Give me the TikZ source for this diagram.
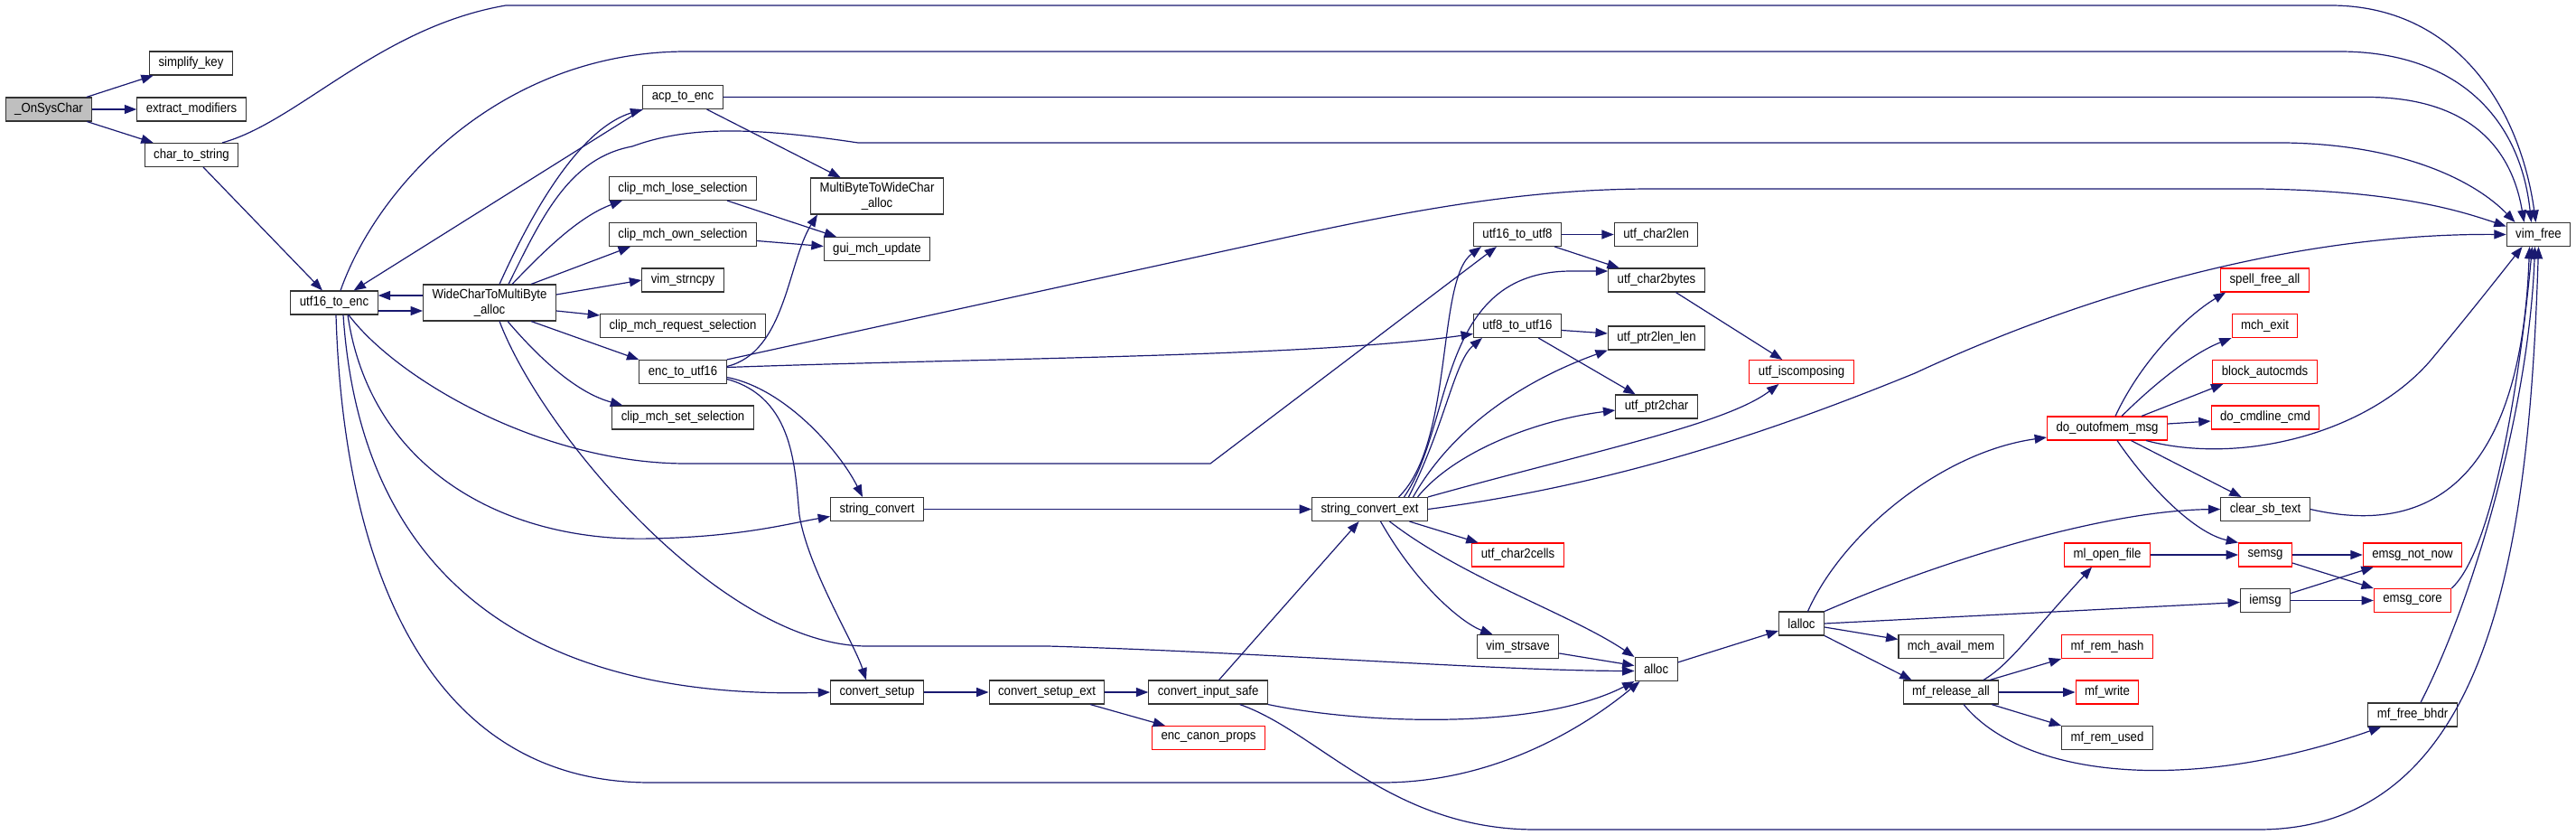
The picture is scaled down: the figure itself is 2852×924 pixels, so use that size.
\documentclass[tikz,border=0pt]{standalone}
\usepackage{fontspec}
\setmainfont{Liberation Sans}[FakeStretch=0.9]
\usetikzlibrary{arrows.meta}
\definecolor{edgeblue}{HTML}{191970}
\definecolor{rootgrey}{HTML}{BFBFBF}

\begin{document}
\begin{tikzpicture}[
  x=0.75pt, y=-0.75pt,
  every node/.style={inner sep=1pt},
  fn/.style={draw=black!80, fill=white, line width=0.8pt, inner xsep=7.5pt,
    inner ysep=2pt, minimum height=19.5pt, font=\fontsize{11}{13}\selectfont},
  fnred/.style={fn, draw=red},
  fnroot/.style={fn, fill=rootgrey},
  fntwo/.style={fn, align=center, minimum height=30pt},
  % calls: dark blue line with a filled head, as in the doxygen graph
  call/.style={draw=edgeblue, line width=0.9pt, -{Triangle[length=10pt,width=7.5pt]}}]

  \useasboundingbox (0,0) rectangle (2852,924);

  % vertices
  \node[fnroot] (onsys)    at (54,121)      {\_OnSysChar};
  \node[fn]     (simpkey)  at (211.5,70)    {simplify\_key};
  \node[fn]     (extmod)   at (212,121)     {extract\_modifiers};
  \node[fn]     (chrstr)   at (212,171.5)   {char\_to\_string};
  \node[fn]     (u16enc)   at (370,335)     {utf16\_to\_enc};
  \node[fntwo]  (wcmb)     at (542,335)     {WideCharToMultiByte\\\_alloc};
  \node[fn]     (acpenc)   at (756,107.5)   {acp\_to\_enc};
  \node[fn]     (losesel)  at (756,208.5)   {clip\_mch\_lose\_selection};
  \node[fn]     (ownsel)   at (756,259.5)   {clip\_mch\_own\_selection};
  \node[fn]     (strncpy)  at (756,310)     {vim\_strncpy};
  \node[fn]     (reqsel)   at (756,360.5)   {clip\_mch\_request\_selection};
  \node[fn]     (encu16)   at (756,411.5)   {enc\_to\_utf16};
  \node[fn]     (setsel)   at (756,462)     {clip\_mch\_set\_selection};
  \node[fntwo]  (mbwc)     at (971,217)     {MultiByteToWideChar\\\_alloc};
  \node[fn]     (guiupd)   at (971,275.5)   {gui\_mch\_update};
  \node[fn]     (strconv)  at (971,563.5)   {string\_convert};
  \node[fn]     (cvsetup)  at (971,766)     {convert\_setup};
  \node[fn]     (cvsetupx) at (1159,766)    {convert\_setup\_ext};
  \node[fn]     (cvinput)  at (1337.6,766)  {convert\_input\_safe};
  \node[fnred]  (canon)    at (1338,816.5)  {enc\_canon\_props};
  \node[fn]     (strconvx) at (1516.5,563.5) {string\_convert\_ext};
  \node[fn]     (u16u8)    at (1680,259.5)  {utf16\_to\_utf8};
  \node[fn]     (u8u16)    at (1680,360.5)  {utf8\_to\_utf16};
  \node[fnred]  (c2cells)  at (1680.5,614)  {utf\_char2cells};
  \node[fn]     (strsave)  at (1680.5,715.5) {vim\_strsave};
  \node[fn]     (c2len)    at (1833.6,259.5) {utf\_char2len};
  \node[fn]     (c2bytes)  at (1834,310)    {utf\_char2bytes};
  \node[fn]     (p2lenlen) at (1834,374)    {utf\_ptr2len\_len};
  \node[fn]     (p2char)   at (1834,450)    {utf\_ptr2char};
  \node[fn]     (alloc)    at (1833.6,740.5) {alloc};
  \node[fnred]  (iscomp)   at (1994.6,411.5) {utf\_iscomposing};
  \node[fn]     (lalloc)   at (1994.5,690)  {lalloc};
  \node[fn]     (availmem) at (2160,715.5)  {mch\_avail\_mem};
  \node[fn]     (relall)   at (2160,766)    {mf\_release\_all};
  \node[fnred]  (outofmem) at (2333,474)    {do\_outofmem\_msg};
  \node[fnred]  (mlopen)   at (2333,614)    {ml\_open\_file};
  \node[fnred]  (remhash)  at (2333,715.5)  {mf\_rem\_hash};
  \node[fnred]  (mfwrite)  at (2333,766)    {mf\_write};
  \node[fn]     (remused)  at (2333,816.5)  {mf\_rem\_used};
  \node[fnred]  (spellfree) at (2507.5,310) {spell\_free\_all};
  \node[fnred]  (mchexit)  at (2507.5,360.5) {mch\_exit};
  \node[fnred]  (blockac)  at (2507.5,411.5) {block\_autocmds};
  \node[fnred]  (cmdline)  at (2508,462)    {do\_cmdline\_cmd};
  \node[fn]     (clearsb)  at (2508,563.5)  {clear\_sb\_text};
  \node[fnred]  (semsg)    at (2508,614)    {semsg};
  \node[fn]     (iemsg)    at (2508,664.5)  {iemsg};
  \node[fnred]  (notnow)   at (2671,614)    {emsg\_not\_now};
  \node[fnred]  (emsgcore) at (2671,664.5)  {emsg\_core};
  \node[fn]     (freebhdr) at (2671,791)    {mf\_free\_bhdr};
  \node[fn]     (vimfree)  at (2810.5,259.5) {vim\_free};

  % calls out of _OnSysChar and char_to_string
  \draw[call] (onsys) -- (simpkey);
  \draw[call] (onsys) -- (extmod);
  \draw[call] (onsys) -- (chrstr);
  \draw[call] (chrstr) -- (u16enc);
  \draw[call] ([shift={(34,0)}]chrstr.north) .. controls (330,135) and (420,30) .. (560,6)
    -- (2580,6) .. controls (2720,6) and (2790,120) .. ([shift={(-3,0)}]vimfree.north);

  % utf16_to_enc
  \draw[call] ([shift={(7,0)}]u16enc.north) .. controls (420,200) and (560,57) .. (760,57)
    -- (2590,57) .. controls (2720,57) and (2790,130) .. ([shift={(-8,0)}]vimfree.north);
  \draw[call] ([shift={(0,9)}]u16enc.east) -- ([shift={(0,9)}]wcmb.west);
  \draw[call] ([shift={(2,0)}]u16enc.south) .. controls (380,620) and (470,866) .. (720,866)
    -- (1530,866) .. controls (1660,866) and (1760,800) .. ([shift={(6,0)}]alloc.south west);
  \draw[call] ([shift={(10,0)}]u16enc.south) .. controls (400,650) and (600,775) .. (cvsetup.west);
  \draw[call] ([shift={(15,0)}]u16enc.south) .. controls (410,520) and (560,600) .. (720,596)
    .. controls (820,594) and (870,580) .. ([shift={(0,8)}]strconv.west);
  \draw[call] ([shift={(16,0)}]u16enc.south) .. controls (440,420) and (600,513) .. (760,513)
    -- (1340,513) -- ([shift={(26,0)}]u16u8.south west);

  % WideCharToMultiByte_alloc
  \draw[call] ([shift={(0,-8)}]wcmb.west) -- ([shift={(0,-8)}]u16enc.east);
  \draw[call] ([shift={(11,0)}]wcmb.north) .. controls (600,210) and (650,140) .. (acpenc.south west);
  \draw[call] ([shift={(21,0)}]wcmb.north) .. controls (600,240) and (630,175) .. (700,162)
    .. controls (760,140) and (830,140) .. (950,158) -- (2530,158)
    .. controls (2660,160) and (2740,200) .. ([shift={(-26,0)}]vimfree.north);
  \draw[call] ([shift={(25,0)}]wcmb.north) .. controls (600,280) and (640,240) .. ([shift={(15,0)}]losesel.south west);
  \draw[call] ([shift={(46,0)}]wcmb.north) -- ([shift={(24,0)}]ownsel.south west);
  \draw[call] ([shift={(0,-9)}]wcmb.east) -- (strncpy.west);
  \draw[call] ([shift={(0,9)}]wcmb.east) -- ([shift={(0,2)}]reqsel.north west);
  \draw[call] ([shift={(46,0)}]wcmb.south) -- (encu16.north west);
  \draw[call] ([shift={(20,0)}]wcmb.south) .. controls (600,400) and (640,435) .. ([shift={(12,0)}]setsel.north west);
  \draw[call] ([shift={(11,0)}]wcmb.south) .. controls (600,480) and (800,715) .. (960,715)
    -- (1160,715) .. controls (1400,722) and (1650,742) .. ([shift={(0,2)}]alloc.west);

  % acp_to_enc
  \draw[call] (acpenc) -- (mbwc);
  \draw[call] (acpenc.south west) -- (u16enc);
  \draw[call] (acpenc.east) -- (2620,107.5) .. controls (2730,107.5) and (2780,160) .. ([shift={(-16,0)}]vimfree.north);

  % enc_to_utf16
  \draw[call] (encu16.north east) -- (1400,268) .. controls (1580,228) and (1700,209) .. (1830,209)
    -- (2500,209) .. controls (2650,211) and (2720,232) .. ([shift={(0,-9)}]vimfree.west);
  \draw[call] ([shift={(0,-5)}]encu16.east) .. controls (1100,396) and (1450,395) .. ([shift={(0,9)}]u8u16.west);
  \draw[call] ([shift={(0,-6)}]encu16.east) .. controls (870,390) and (872,290) .. ([shift={(8,0)}]mbwc.south west);
  \draw[call] ([shift={(0,6)}]encu16.east) .. controls (870,430) and (930,500) .. ([shift={(-16,0)}]strconv.north);
  \draw[call] ([shift={(0,8)}]encu16.east) .. controls (880,440) and (880,520) .. (885,570)
    .. controls (895,630) and (945,710) .. ([shift={(-12,0)}]cvsetup.north);

  % selections
  \draw[call] ([shift={(49,0)}]losesel.south) -- ([shift={(-45,0)}]guiupd.north);
  \draw[call] ([shift={(0,7)}]ownsel.east) -- ([shift={(0,-3)}]guiupd.west);

  % conversion chain
  \draw[call] (strconv) -- (strconvx);
  \draw[call] (cvsetup) -- (cvsetupx);
  \draw[call] (cvsetupx) -- (cvinput);
  \draw[call] (cvsetupx) -- (canon);
  \draw[call] (cvinput) -- (strconvx);
  \draw[call] (cvinput.south east) .. controls (1500,800) and (1700,810) .. (alloc.south west);
  \draw[call] ([shift={(35,0)}]cvinput.south) .. controls (1460,810) and (1540,918) .. (1700,918)
    -- (2500,918) .. controls (2760,918) and (2800,600) .. ([shift={(0,0)}]vimfree.south);

  % string_convert_ext
  \draw[call] (strconvx) -- (c2cells);
  \draw[call] ([shift={(12,0)}]strconvx.south) .. controls (1570,650) and (1620,690) .. ([shift={(-28,0)}]strsave.north);
  \draw[call] ([shift={(22,0)}]strconvx.south) .. controls (1620,640) and (1740,680) .. (alloc.north west);
  \draw[call] ([shift={(32,0)}]strconvx.north) .. controls (1610,490) and (1590,310) .. ([shift={(9,0)}]u16u8.south west);
  \draw[call] ([shift={(38,0)}]strconvx.north) .. controls (1610,470) and (1590,300) .. (1740,300)
    -- ([shift={(0,-10)}]c2bytes.west);
  \draw[call] ([shift={(43,0)}]strconvx.north) .. controls (1600,470) and (1610,400) .. ([shift={(10,0)}]u8u16.south west);
  \draw[call] ([shift={(48,0)}]strconvx.north) .. controls (1610,470) and (1690,420) .. (p2lenlen.south west);
  \draw[call] ([shift={(53,0)}]strconvx.north) .. controls (1610,500) and (1700,465) .. ([shift={(0,4)}]p2char.west);
  \draw[call] (strconvx.north east) .. controls (1760,500) and (1910,470) .. ([shift={(33,0)}]iscomp.south west);
  \draw[call] (strconvx.east) .. controls (1800,535) and (1980,470) .. (2120,413)
    .. controls (2320,320) and (2550,258) .. (vimfree.west);

  % utf helpers
  \draw[call] (u16u8) -- (c2len);
  \draw[call] (u16u8) -- (c2bytes);
  \draw[call] ([shift={(0,5)}]u8u16.east) -- ([shift={(0,-5)}]p2lenlen.west);
  \draw[call] (u8u16) -- (p2char);
  \draw[call] (c2bytes) -- (iscomp);

  % allocation
  \draw[call] (strsave) -- (alloc);
  \draw[call] (alloc) -- (lalloc);
  \draw[call] ([shift={(7,0)}]lalloc.north) .. controls (2040,590) and (2150,500) .. ([shift={(0,10)}]outofmem.west);
  \draw[call] (lalloc.north east) .. controls (2150,620) and (2330,565) .. (clearsb.west);
  \draw[call] (lalloc.east) -- ([shift={(0,2)}]iemsg.west);
  \draw[call] ([shift={(0,4)}]lalloc.east) -- ([shift={(0,-8)}]availmem.west);
  \draw[call] (lalloc.south east) -- ([shift={(10,0)}]relall.north west);

  % do_outofmem_msg
  \draw[call] ([shift={(9,0)}]outofmem.north) .. controls (2370,400) and (2420,350) .. ([shift={(6,0)}]spellfree.south west);
  \draw[call] ([shift={(16,0)}]outofmem.north) .. controls (2390,420) and (2430,390) .. (mchexit.south west);
  \draw[call] ([shift={(38,0)}]outofmem.north) -- ([shift={(12,0)}]blockac.south west);
  \draw[call] ([shift={(0,-5)}]outofmem.east) -- ([shift={(0,4)}]cmdline.west);
  \draw[call] (outofmem) -- (clearsb);
  \draw[call] ([shift={(11,0)}]outofmem.south) .. controls (2380,540) and (2430,590) .. (semsg.north west);
  \draw[call] ([shift={(43,0)}]outofmem.south) .. controls (2480,515) and (2620,480) .. (2690,400)
    .. controls (2740,340) and (2775,295) .. ([shift={(-18,0)}]vimfree.south);

  % messages
  \draw[call] (clearsb.east) .. controls (2760,610) and (2795,420) .. ([shift={(-10,0)}]vimfree.south);
  \draw[call] (mlopen) -- (semsg);
  \draw[call] (semsg) -- (notnow);
  \draw[call] ([shift={(0,9)}]semsg.east) -- (emsgcore.north west);
  \draw[call] ([shift={(0,-8)}]iemsg.east) -- ([shift={(12,0)}]notnow.south west);
  \draw[call] (iemsg) -- (emsgcore);
  \draw[call] (emsgcore.north east) .. controls (2760,610) and (2790,420) .. ([shift={(-7,0)}]vimfree.south);

  % mf_release_all
  \draw[call] ([shift={(36,0)}]relall.north) .. controls (2225,735) and (2245,705) .. ([shift={(-17,0)}]mlopen.south);
  \draw[call] ([shift={(43,0)}]relall.north) -- (remhash.south west);
  \draw[call] (relall) -- (mfwrite);
  \draw[call] ([shift={(45,0)}]relall.south) -- (remused.north west);
  \draw[call] ([shift={(14,0)}]relall.south) .. controls (2240,860) and (2420,880) .. ([shift={(15,0)}]freebhdr.south west);
  \draw[call] ([shift={(9,0)}]freebhdr.north) .. controls (2740,660) and (2800,450) .. ([shift={(-4,0)}]vimfree.south);
\end{tikzpicture}
\end{document}
